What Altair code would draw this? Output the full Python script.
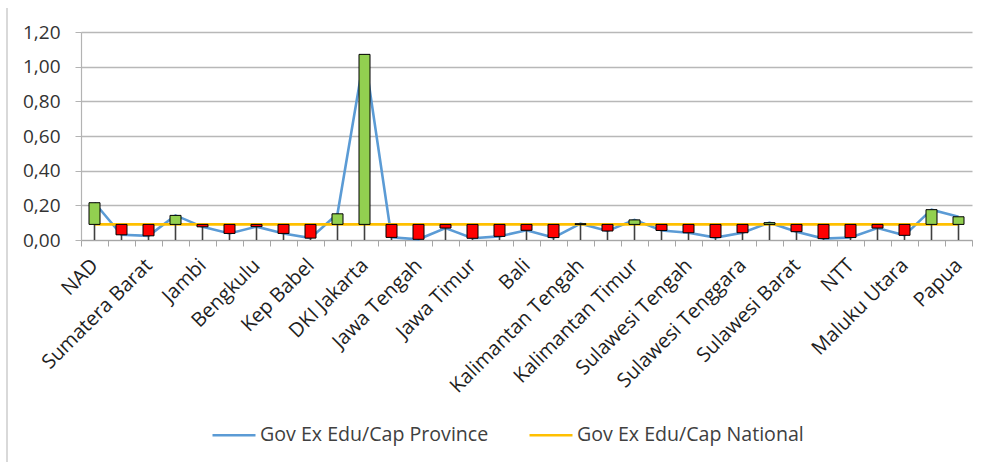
import altair as alt
import pandas as pd
import json

# Provinces in the order used on the category axis
provinces = [
    "NAD", "Sumatera Utara", "Sumatera Barat", "Riau", "Jambi",
    "Sumatera Selatan", "Bengkulu", "Lampung", "Kep Babel", "Kep Riau",
    "DKI Jakarta", "Jawa Barat", "Jawa Tengah", "DI Yogyakarta", "Jawa Timur",
    "Banten", "Bali", "Kalimantan Barat", "Kalimantan Tengah",
    "Kalimantan Selatan", "Kalimantan Timur", "Sulawesi Utara",
    "Sulawesi Tengah", "Sulawesi Selatan", "Sulawesi Tenggara", "Gorontalo",
    "Sulawesi Barat", "NTB", "NTT", "Maluku", "Maluku Utara", "Papua Barat",
    "Papua",
]

# Government education expenditure per capita by province
province_values = [
    0.215, 0.030, 0.024, 0.142, 0.076, 0.038, 0.077, 0.038, 0.011, 0.151,
    1.071, 0.015, 0.004, 0.069, 0.010, 0.021, 0.056, 0.014, 0.094, 0.052,
    0.116, 0.055, 0.042, 0.014, 0.042, 0.100, 0.048, 0.008, 0.014, 0.069,
    0.027, 0.175, 0.134,
]

# National figure, repeated for every province
national_values = [0.09] * len(provinces)

y_ticks = [0, 0.2, 0.4, 0.6, 0.8, 1.0, 1.2]

SER_PROV = "Gov Ex Edu/Cap Province"
SER_NAT = "Gov Ex Edu/Cap National"

wide = pd.DataFrame({
    "province": provinces,
    "prov": province_values,
    "nat": national_values,
})
wide["low"] = wide[["prov", "nat"]].min(axis=1)
wide["zero"] = 0.0

long = pd.concat([
    pd.DataFrame({"province": provinces, "series": SER_PROV, "value": province_values}),
    pd.DataFrame({"province": provinces, "series": SER_NAT, "value": national_values}),
])

FONT = "Open Sans"
names_js = json.dumps(provinces)

x_axis = alt.Axis(
    title=None,
    labelAngle=-45,
    labelAlign="right",
    labelBaseline="middle",
    labelFont=FONT,
    labelFontSize=20,
    labelColor="#1f1f1f",
    labelPadding=16,
    labelExpr=f"indexof({names_js}, datum.value) % 2 == 0 ? datum.label : ''",
    labelOverlap=False,
    tickBand="extent",
    tickSize=6,
    tickColor="#A6A6A6",
    domainColor="#A6A6A6",
    domainWidth=1.2,
    grid=False,
)
x_scale = alt.Scale(paddingInner=0, paddingOuter=0)


def x_enc():
    return alt.X("province:N", sort=provinces, scale=x_scale, axis=x_axis)


y_scale = alt.Scale(domain=[0, 1.2], nice=False, zero=True)
y_axis = alt.Axis(
    title=None,
    values=y_ticks,
    tickCount=7,
    labelExpr="replace(format(datum.value, '.2f'), '.', ',')",
    labelFont=FONT,
    labelFontSize=19,
    labelColor="#333333",
    labelPadding=15,
    labelOverlap=False,
    tickSize=6,
    tickColor="#B3B3B3",
    domainColor="#B3B3B3",
    domainWidth=1.2,
    grid=True,
    gridColor="#B8B8B8",
    gridWidth=1.3,
)


def y_enc(field):
    return alt.Y(field, scale=y_scale, axis=y_axis)


lines = alt.Chart(long).mark_line(strokeWidth=2.6).encode(
    x=x_enc(),
    y=y_enc("value:Q"),
    color=alt.Color(
        "series:N",
        scale=alt.Scale(domain=[SER_PROV, SER_NAT], range=["#5B9BD5", "#FFC000"]),
        legend=alt.Legend(
            title=None,
            orient="none",
            legendX=130,
            legendY=380,
            direction="horizontal",
            columns=2,
            columnPadding=35,
            symbolType="stroke",
            symbolSize=1849,
            symbolStrokeWidth=2.6,
            labelFont=FONT,
            labelFontSize=19.6,
            labelColor="#404040",
            labelOffset=3,
            labelLimit=0,
        ),
    ),
    detail="series:N",
)

wicks = alt.Chart(wide).mark_rule(color="#404040", strokeWidth=1.6).encode(
    x=x_enc(),
    y=y_enc("zero:Q"),
    y2="low:Q",
)

bars = alt.Chart(wide).mark_bar(size=11, stroke="#000000", strokeWidth=1).encode(
    x=x_enc(),
    y=y_enc("nat:Q"),
    y2="prov:Q",
    fill=alt.condition("datum.prov > datum.nat", alt.value("#92D050"), alt.value("#FF0000")),
)

# light frame line on the left edge of the chart area
frame = alt.Chart(wide).mark_rule(color="#D9D9D9", strokeWidth=1.5).encode(
    x=alt.value(-74), y=alt.value(-24), y2=alt.value(430)
)

chart = alt.layer(frame, lines, wicks, bars).properties(
    width=891,
    height=208,
    autosize=alt.AutoSizeParams(type="none"),
    padding={"left": 81, "top": 32, "right": 16, "bottom": 222},
    background="#FFFFFF",
).configure_view(stroke=None)

chart.save("out.html", embed_options={"renderer": "svg", "actions": False})
